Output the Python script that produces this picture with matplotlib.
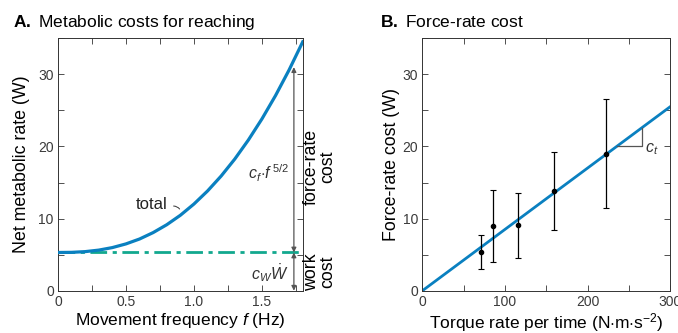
import matplotlib
matplotlib.use('Agg')
import matplotlib.pyplot as plt
from matplotlib.ticker import MultipleLocator

plt.rcParams['font.family'] = ['Liberation Sans', 'DejaVu Sans']
plt.rcParams['mathtext.fontset'] = 'custom'
plt.rcParams['mathtext.rm'] = 'Liberation Sans'
plt.rcParams['mathtext.it'] = 'Liberation Sans:italic'
plt.rcParams['mathtext.bf'] = 'Liberation Sans:bold'

# Panel A: total metabolic rate vs movement frequency
freq = [0.0, 0.1, 0.2, 0.3, 0.4, 0.5, 0.6, 0.7, 0.8, 0.9,
        1.0, 1.1, 1.2, 1.3, 1.4, 1.5, 1.6, 1.7, 1.8]
total = [5.30, 5.32, 5.42, 5.63, 5.98, 6.49, 7.17, 8.06, 9.15, 10.46,
         12.02, 13.83, 15.90, 18.25, 20.89, 23.82, 27.06, 30.62, 34.51]
work_cost = 5.3
arrow_f = 1.735
arrow_top = 31.0

# Panel B: force-rate cost vs torque rate per time
torque_rate = [71, 85, 116, 159, 222]
fr_cost = [5.4, 9.0, 9.1, 13.8, 19.0]
fr_err = [2.35, 5.0, 4.5, 5.4, 7.6]
fit_x = [0, 300]
fit_y = [0.0, 25.5]

blue = '#0a80c0'
green = '#12a88e'
gray = '#555555'

fig = plt.figure(figsize=(6.78, 3.33), dpi=100)
axA = fig.add_axes([0.0855, 0.127, 0.361, 0.758])
axB = fig.add_axes([0.623, 0.127, 0.3653, 0.758])

for ax in (axA, axB):
    ax.tick_params(direction='in', top=True, right=True, length=4, width=0.6,
                   labelsize=10, labelcolor='#3a3a3a', color='#333333', pad=3)
    ax.tick_params(which='minor', direction='in', top=True, right=True, length=4,
                   width=0.6, color='#333333')
    for s in ax.spines.values():
        s.set_linewidth(0.7)
        s.set_color('#333333')
    ax.set_ylim(0, 35)
    ax.yaxis.set_major_locator(MultipleLocator(10))
    ax.yaxis.set_minor_locator(MultipleLocator(5))

# ---- Panel A ----
axA.plot(freq, total, color=blue, lw=2.3, zorder=3)
axA.axhline(work_cost, color=green, lw=2, ls=(0, (6, 2, 1.5, 2)), zorder=2)
axA.set_xlim(0, 1.8)
axA.xaxis.set_minor_locator(MultipleLocator(0.25))
axA.set_xticks([0, 0.5, 1.0, 1.5])
axA.set_xticklabels(['0', '0.5', '1.0', '1.5'])
axA.set_xlabel('Movement frequency $f$ (Hz)', fontsize=12.5, labelpad=1.5)
axA.set_ylabel('Net metabolic rate (W)', fontsize=12.8, labelpad=6)

arr = dict(arrowstyle='<|-|>', color=gray, lw=0.9, mutation_scale=7,
           shrinkA=0, shrinkB=0)
axA.annotate('', xy=(arrow_f, arrow_top), xytext=(arrow_f, work_cost), arrowprops=arr)
axA.annotate('', xy=(arrow_f, work_cost), xytext=(arrow_f, 0), arrowprops=arr)
axA.text(1.55, 16.3, r'$c_f\!\cdot\! f^{\,5/2}$', fontsize=11.5, ha='center', va='center',
         color='#333333')
axA.text(1.56, 2.4, r'$c_W\dot{W}$', fontsize=11.5, ha='center', va='center',
         color='#333333')
axA.text(0.69, 11.9, 'total', fontsize=12, ha='center', va='center', color='#222222')
axA.annotate('', xy=(0.905, 11.0), xytext=(0.83, 11.7),
             arrowprops=dict(arrowstyle='-', color='#333333', lw=0.7,
                             connectionstyle='arc3,rad=-0.4'))
axA.text(1.07, 17.2, 'force-rate\ncost', transform=axA.get_yaxis_transform(),
         rotation=90, fontsize=12.8, ha='center', va='center', linespacing=0.95)
axA.text(1.07, 2.6, 'work\ncost', transform=axA.get_yaxis_transform(),
         rotation=90, fontsize=12.8, ha='center', va='center', linespacing=0.95)

# ---- Panel B ----
axB.plot(fit_x, fit_y, color=blue, lw=2, zorder=2)
axB.errorbar(torque_rate, fr_cost, yerr=fr_err, fmt='o', color='black', ms=3,
             elinewidth=0.9, capsize=2, capthick=0.8, zorder=3)
axB.set_xlim(0, 300)
axB.xaxis.set_major_locator(MultipleLocator(100))
axB.xaxis.set_minor_locator(MultipleLocator(50))
axB.set_xlabel(r'Torque rate per time (N$\cdot$m$\cdot$s$^{-2}$)', fontsize=12.5,
               labelpad=1.5)
axB.set_ylabel('Force-rate cost (W)', fontsize=12.8, labelpad=2)
slope = fit_y[1] / fit_x[1]
tx0, tx1 = 236, 266
axB.plot([tx0, tx1, tx1], [tx0 * slope, tx0 * slope, tx1 * slope], color=gray, lw=0.9)
axB.text(270, 19.6, '$c_t$', fontsize=11.5, ha='left', va='center', color='#333333')

fig.text(13 / 678, 1 - 22 / 333, r'$\bf{A.}$ Metabolic costs for reaching',
         fontsize=12.5, ha='left', va='center')
fig.text(380 / 678, 1 - 22 / 333, r'$\bf{B.}$ Force-rate cost',
         fontsize=12.5, ha='left', va='center')

fig.savefig('out.png', dpi=100)
